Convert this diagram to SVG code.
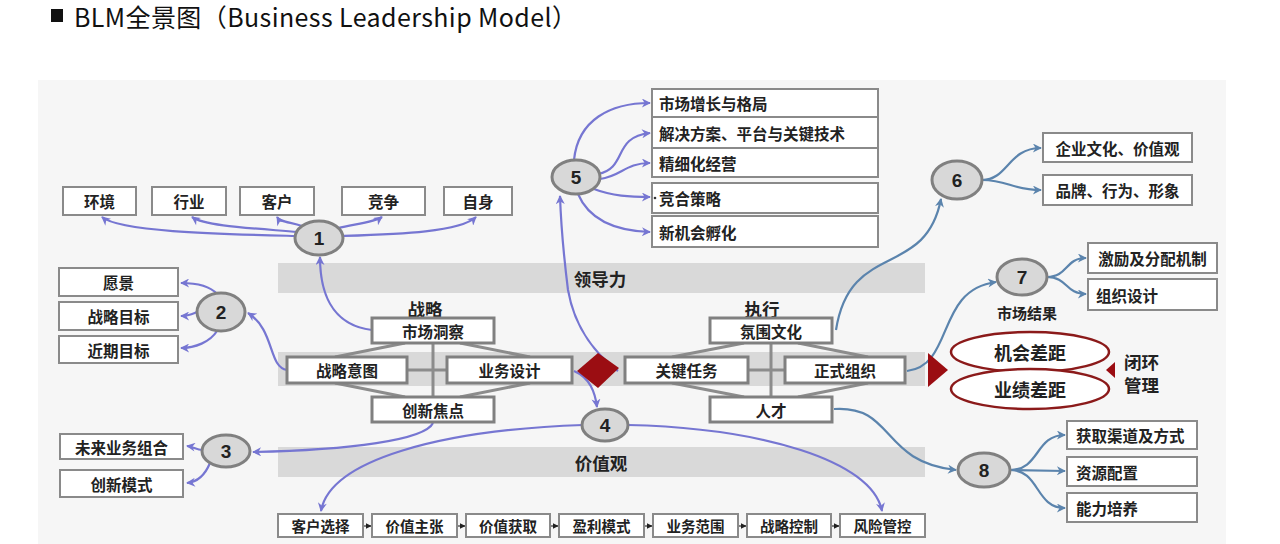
<svg xmlns="http://www.w3.org/2000/svg" width="1280" height="544" viewBox="0 0 1280 544">
<defs>
<style>
.t{font-family:"Noto Sans CJK SC","Liberation Sans",sans-serif;font-weight:bold;font-size:15.5px;fill:#222;text-anchor:middle;dominant-baseline:central}
.tl{text-anchor:start}
.s{font-size:14.5px}
.L{font-size:17.5px}
.box{fill:#fff;stroke:#8a8a8a;stroke-width:2}
.band{fill:#d9d9d9}
.circ{fill:#d8d8d8;stroke:#808080;stroke-width:3}
.num{font-family:"Liberation Sans","Noto Sans CJK SC",sans-serif;font-weight:bold;font-size:19px;fill:#222;text-anchor:middle;dominant-baseline:central}
.pp{fill:none;stroke:#7676d2;stroke-width:2.2;marker-end:url(#ap)}
.pb{fill:none;stroke:#5b84ad;stroke-width:2.2;marker-end:url(#ab)}
.gl{stroke:#8c8c8c;stroke-width:3;fill:none}
.ch{stroke:#333;stroke-width:1.2;marker-end:url(#ak)}
.red{fill:#9b0d12}
.ell{fill:#fff;stroke:#8b1a1a;stroke-width:2.5}
.sb{stroke-width:3;stroke:#808080}
</style>
<marker id="ap" viewBox="0 0 10 10" refX="9" refY="5" markerWidth="10" markerHeight="9" markerUnits="userSpaceOnUse" orient="auto"><path d="M0,0 L10,5 L0,10 L3,5 z" fill="#7676d2"/></marker>
<marker id="ab" viewBox="0 0 10 10" refX="9" refY="5" markerWidth="10" markerHeight="9" markerUnits="userSpaceOnUse" orient="auto"><path d="M0,0 L10,5 L0,10 L3,5 z" fill="#5b84ad"/></marker>
<marker id="ak" viewBox="0 0 10 10" refX="9" refY="5" markerWidth="6" markerHeight="7" markerUnits="userSpaceOnUse" orient="auto"><path d="M0,0 L10,5 L0,10 z" fill="#222"/></marker>
</defs>
<rect x="0" y="0" width="1280" height="544" fill="#fff"/>
<rect x="38" y="80" width="1188" height="464" fill="#f6f6f6"/>

<g id="title">
<rect x="51" y="9" width="12" height="13" fill="#111"/>
<text x="74" y="16" textLength="503" lengthAdjust="spacing" style="font-family:'Noto Sans CJK SC','Liberation Sans',sans-serif;font-size:25px;fill:#111;dominant-baseline:central">BLM全景图（Business Leadership Model）</text>
</g>

<g id="bands">
<rect class="band" x="278" y="263" width="647" height="30"/>
<text class="t L" x="600" y="278">领导力</text>
<rect class="band" x="278" y="352" width="647" height="34"/>
<rect class="band" x="278" y="447" width="647" height="30"/>
<text class="t L" x="601" y="462">价值观</text>
</g>

<g id="connectors">
<path class="pp" d="M296,236 C220,234 120,232 102,217"/>
<path class="pp" d="M298,232 C250,228 205,226 192,217"/>
<path class="pp" d="M302,226 C290,222 280,222 277,217"/>
<path class="pp" d="M338,228 C355,224 375,222 382,217"/>
<path class="pp" d="M343,236 C400,234 460,232 476,217"/>
<path class="pp" d="M372,330 C330,325 320,290 320,257"/>
<path class="pp" d="M217,294 C210,286 195,283 181,283"/>
<path class="pp" d="M197,312 C192,314 188,316 181,316"/>
<path class="pp" d="M217,331 C210,342 195,348 181,348"/>
<path class="pp" d="M287,370 C268,367 275,330 248,313"/>
<path class="pp" d="M203,450 C196,450 194,447 187,446"/>
<path class="pp" d="M210,463 C205,475 198,482 187,483"/>
<path class="pp" d="M433,423 C425,440 350,450 253,452"/>
<path class="pp" d="M574,371 C590,378 595,392 597,407"/>
<path class="pp" d="M583,425 C440,430 330,460 321,511"/>
<path class="pp" d="M628,425 C760,428 872,460 882,511"/>
<path class="pp" d="M618,371 C598,356 575,330 568,290 C563,250 561,225 560,196"/>
<path class="pp" d="M574,160 C578,120 610,103 650,103"/>
<path class="pp" d="M598,174 C628,168 612,137 650,133"/>
<path class="pp" d="M600,179 C622,176 625,163 650,163"/>
<path class="pp" d="M594,189 C612,196 630,197 650,197"/>
<path class="pp" d="M578,194 C590,222 620,231 650,232"/>
<path class="pb" d="M836,330 C850,240 925,280 941,199"/>
<path class="pb" d="M982,180 C1008,180 1008,148 1041,148"/>
<path class="pb" d="M982,180 C1008,180 1012,190 1041,190"/>
<path class="pb" d="M907,371 C955,365 935,290 996,282"/>
<path class="pb" d="M1047,277 C1068,277 1065,258 1086,258"/>
<path class="pb" d="M1047,277 C1068,277 1065,294 1086,294"/>
<path class="pb" d="M834,409 C895,405 880,462 956,470"/>
<path class="pb" d="M1010,470 C1040,470 1035,435 1065,435"/>
<path class="pb" d="M1010,470 L1065,471"/>
<path class="pb" d="M1010,470 C1040,470 1035,508 1065,508"/>
<path class="gl" d="M433,343 V397 M407,370 H447 M405,343 L335,357 M460,343 L530,357 M405,397 L335,383 M460,397 L530,383"/>
<path class="gl" d="M771,343 V397 M748,370 H785 M744,343 L672,357 M798,343 L868,357 M744,397 L672,383 M798,397 L868,383"/>
<path class="ch" d="M363,526 H371"/>
<path class="ch" d="M457,526 H465"/>
<path class="ch" d="M550,526 H558"/>
<path class="ch" d="M644,526 H652"/>
<path class="ch" d="M738,526 H746"/>
<path class="ch" d="M831,526 H839"/>
</g>

<g id="n1-targets">
<rect class="box" x="63" y="187" width="73" height="28"/><text class="t" x="99.5" y="201">环境</text>
<rect class="box" x="152" y="187" width="74" height="28"/><text class="t" x="189" y="201">行业</text>
<rect class="box" x="240" y="187" width="74" height="28"/><text class="t" x="277" y="201">客户</text>
<rect class="box" x="342" y="187" width="83" height="28"/><text class="t" x="383.5" y="201">竞争</text>
<rect class="box" x="444" y="187" width="68" height="28"/><text class="t" x="478" y="201">自身</text>
</g>
<g id="n2-targets">
<rect class="box" x="59" y="268" width="119" height="28"/><text class="t" x="118.5" y="282">愿景</text>
<rect class="box" x="59" y="302" width="119" height="28"/><text class="t" x="118.5" y="316">战略目标</text>
<rect class="box" x="59" y="336" width="119" height="27"/><text class="t" x="118.5" y="349.5">近期目标</text>
</g>
<g id="n3-targets">
<rect class="box" x="60" y="434" width="123" height="25"/><text class="t" x="121.5" y="446.5">未来业务组合</text>
<rect class="box" x="60" y="470" width="123" height="27"/><text class="t" x="121.5" y="483.5">创新模式</text>
</g>
<g id="n5-targets">
<rect class="box" x="652" y="89" width="226" height="28"/><text class="t tl" x="659" y="103">市场增长与格局</text>
<rect class="box" x="652" y="117" width="226" height="31"/><text class="t tl" x="659" y="132.5">解决方案、平台与关键技术</text>
<rect class="box" x="652" y="148" width="226" height="29"/><text class="t tl" x="659" y="162.5">精细化经营</text>
<rect class="box" x="652" y="183" width="226" height="30"/><circle cx="655" cy="198" r="1.3" fill="#333"/><text class="t tl" x="659" y="198">竞合策略</text>
<rect class="box" x="652" y="216" width="226" height="31"/><text class="t tl" x="659" y="231.5">新机会孵化</text>
</g>
<g id="n6-targets">
<rect class="box" x="1043" y="133" width="149" height="29"/><text class="t" x="1117.5" y="147.5">企业文化、价值观</text>
<rect class="box" x="1043" y="175" width="149" height="30"/><text class="t" x="1117.5" y="190">品牌、行为、形象</text>
</g>
<g id="n7-targets">
<rect class="box" x="1088" y="243" width="129" height="30"/><text class="t" x="1152.5" y="258">激励及分配机制</text>
<rect class="box" x="1088" y="279" width="129" height="31"/><text class="t tl" x="1096" y="294.5">组织设计</text>
</g>
<g id="n8-targets">
<rect class="box" x="1067" y="421" width="130" height="28"/><text class="t tl" x="1076" y="435">获取渠道及方式</text>
<rect class="box" x="1067" y="457" width="130" height="29"/><text class="t tl" x="1076" y="471.5">资源配置</text>
<rect class="box" x="1067" y="493" width="130" height="29"/><text class="t tl" x="1076" y="507.5">能力培养</text>
</g>

<g id="strategy">
<text class="t L" x="425" y="308">战略</text>
<rect class="box sb" x="372" y="318" width="122" height="25"/><text class="t" x="433" y="330.5">市场洞察</text>
<rect class="box sb" x="287" y="357" width="120" height="26"/><text class="t" x="347" y="370">战略意图</text>
<rect class="box sb" x="447" y="357" width="125" height="26"/><text class="t" x="509.5" y="370">业务设计</text>
<rect class="box sb" x="372" y="397" width="122" height="25"/><text class="t" x="433" y="409.5">创新焦点</text>
</g>
<g id="execution">
<text class="t L" x="762" y="308">执行</text>
<rect class="box sb" x="710" y="318" width="122" height="25"/><text class="t" x="771" y="330.5">氛围文化</text>
<rect class="box sb" x="625" y="357" width="123" height="26"/><text class="t" x="686.5" y="370">关键任务</text>
<rect class="box sb" x="785" y="357" width="120" height="26"/><text class="t" x="845" y="370">正式组织</text>
<rect class="box sb" x="710" y="397" width="122" height="25"/><text class="t" x="771" y="409.5">人才</text>
</g>
<g id="diamond"><polygon class="red" points="577,371 598,353 619,368 598,388"/></g>
<g id="arrow-out"><polygon class="red" points="928,353 948,370 928,387"/></g>

<g id="gaps">
<ellipse class="ell" cx="1030" cy="352" rx="79" ry="20"/>
<text class="t" x="1030" y="352" style="font-size:18px">机会差距</text>
<ellipse class="ell" cx="1030" cy="389" rx="79" ry="20"/>
<text class="t" x="1030" y="389" style="font-size:18px">业绩差距</text>
<polygon class="red" points="1115,362 1106,370 1115,378"/>
<text class="t tl L" x="1124" y="361">闭环</text>
<text class="t tl L" x="1124" y="384">管理</text>
</g>

<g id="c1"><ellipse class="circ" cx="319" cy="238" rx="24" ry="17"/><text class="num" x="319" y="238">1</text></g>
<g id="c2"><ellipse class="circ" cx="221" cy="312" rx="24" ry="19"/><text class="num" x="221" y="312">2</text></g>
<g id="c3"><ellipse class="circ" cx="226" cy="451" rx="24" ry="16"/><text class="num" x="226" y="451">3</text></g>
<g id="c4"><ellipse class="circ" cx="605" cy="425" rx="23" ry="16"/><text class="num" x="605" y="425">4</text></g>
<g id="c5"><ellipse class="circ" cx="576" cy="177" rx="24" ry="17"/><text class="num" x="576" y="177">5</text></g>
<g id="c6"><ellipse class="circ" cx="957" cy="180" rx="25" ry="19"/><text class="num" x="957" y="180">6</text></g>
<g id="c7"><ellipse class="circ" cx="1022" cy="277" rx="25" ry="18"/><text class="num" x="1022" y="277">7</text>
<text class="t" x="1027" y="312" style="font-size:15px">市场结果</text></g>
<g id="c8"><ellipse class="circ" cx="984" cy="470" rx="26" ry="17"/><text class="num" x="984" y="470">8</text></g>

<g id="chain">
<rect class="box" x="278" y="514" width="85" height="23"/><text class="t s" x="320.5" y="525.5">客户选择</text>
<rect class="box" x="372" y="514" width="85" height="23"/><text class="t s" x="414.5" y="525.5">价值主张</text>
<rect class="box" x="466" y="514" width="84" height="23"/><text class="t s" x="508" y="525.5">价值获取</text>
<rect class="box" x="559" y="514" width="85" height="23"/><text class="t s" x="601.5" y="525.5">盈利模式</text>
<rect class="box" x="653" y="514" width="85" height="23"/><text class="t s" x="695.5" y="525.5">业务范围</text>
<rect class="box" x="747" y="514" width="84" height="23"/><text class="t s" x="789" y="525.5">战略控制</text>
<rect class="box" x="840" y="514" width="85" height="23"/><text class="t s" x="882.5" y="525.5">风险管控</text>
</g>
</svg>
